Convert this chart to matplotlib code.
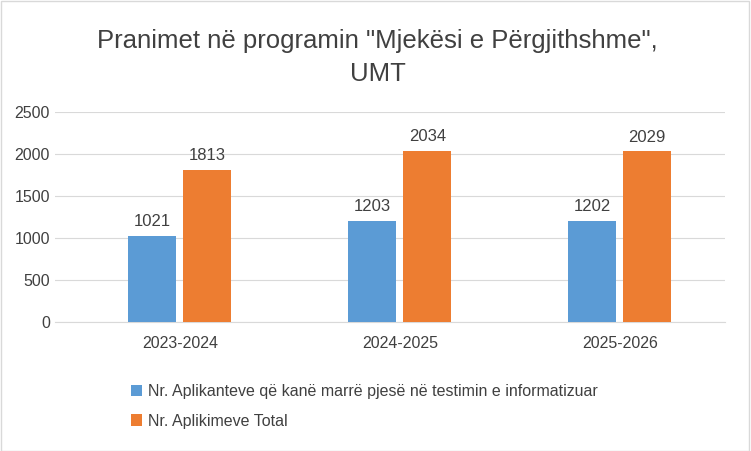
import matplotlib.pyplot as plt
import numpy as np

plt.rcParams["font.family"] = "Liberation Sans"

categories = ["2023-2024", "2024-2025", "2025-2026"]
applicants_tested = [1021, 1203, 1202]
applications_total = [1813, 2034, 2029]
series_names = ["Nr. Aplikanteve që kanë marrë pjesë në testimin e informatizuar",
                "Nr. Aplikimeve Total"]
yticks = [0, 500, 1000, 1500, 2000, 2500]

BLUE = "#5B9BD5"
ORANGE = "#ED7D31"
TXT = "#404040"

fig = plt.figure(figsize=(7.51, 4.51), dpi=100)
ax = fig.add_axes([0.073, 0.286, 0.892, 0.466])

x = np.arange(len(categories))
w = 0.22
gap = 0.03
b1 = ax.bar(x - w / 2 - gap / 2, applicants_tested, w, color=BLUE, zorder=3)
b2 = ax.bar(x + w / 2 + gap / 2, applications_total, w, color=ORANGE, zorder=3)
for bars, vals in ((b1, applicants_tested), (b2, applications_total)):
    for r, v in zip(bars, vals):
        ax.text(r.get_x() + r.get_width() / 2, v + 80, str(v),
                ha="center", va="bottom", fontsize=12, color=TXT)

ax.set_xlim(-0.568, 2.477)
ax.set_ylim(0, 2500)
ax.set_yticks(yticks)
ax.set_xticks(x, categories)
ax.grid(axis="y", color="#D9D9D9", lw=0.8, zorder=0)
ax.tick_params(length=0, labelsize=11.5, colors=TXT)
ax.tick_params(axis="x", pad=10)
for s in ["top", "right", "left"]:
    ax.spines[s].set_visible(False)
ax.spines["bottom"].set_color("#D9D9D9")

fig.text(0.503, 0.91, 'Pranimet në programin "Mjekësi e Përgjithshme",',
         ha="center", va="center", fontsize=18.5, color=TXT)
fig.text(0.503, 0.835, "UMT", ha="center", va="center", fontsize=18.5, color=TXT)

fig.legend([b1, b2], series_names, loc="upper left", bbox_to_anchor=(0.155, 0.18),
           ncol=1, frameon=False, fontsize=11.5, labelcolor=TXT,
           handlelength=0.7, handleheight=0.7, handletextpad=0.4, labelspacing=0.9)

fig.patches.append(plt.Rectangle((0.001, 0.001), 0.997, 0.997, transform=fig.transFigure,
                                 fill=False, edgecolor="#D9D9D9", lw=1))
fig.savefig("out.png", dpi=100)
